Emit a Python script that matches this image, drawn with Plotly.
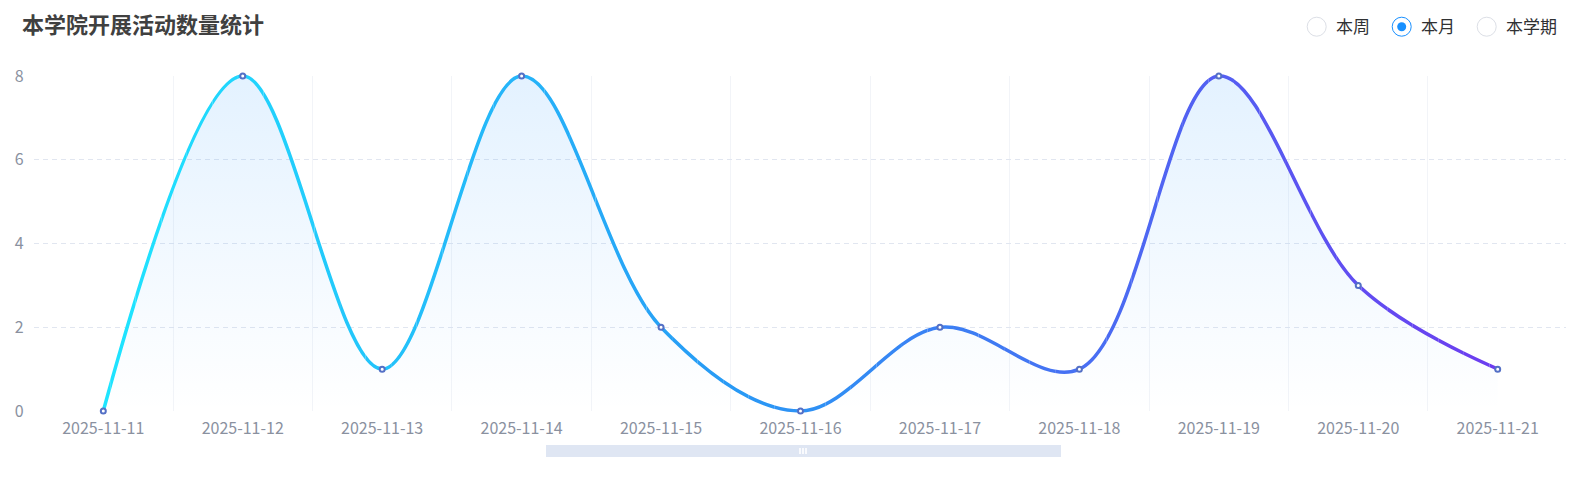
import plotly.graph_objects as go

# ==============================
# DATA
# ==============================
dates = ["2025-11-11", "2025-11-12", "2025-11-13", "2025-11-14", "2025-11-15",
         "2025-11-16", "2025-11-17", "2025-11-18", "2025-11-19", "2025-11-20",
         "2025-11-21"]
counts = [0, 8, 1, 8, 2, 0, 2, 1, 8, 3, 1]
y_ticks = [0, 2, 4, 6, 8]
title_text = "本学院开展活动数量统计"
periods = ["本周", "本月", "本学期"]
selected_period = "本月"

# ==============================
# CONFIG
# ==============================
# the page body keeps its default 8px margin, so the figure is
# 16px smaller than the window and every position is shifted by 8px
WIN_W, WIN_H = 1574, 478
OFF = 8
W, H = WIN_W - 2 * OFF, WIN_H - 2 * OFF
FONT = "Noto Sans CJK SC, Microsoft YaHei, sans-serif"
LABEL_COLOR = "#8a919f"

# plot geometry in window pixels
C_FIRST, C_LAST = 103.3, 1497.7   # centres of first / last category
PX_Y0, PX_Y8 = 411, 76            # pixel rows of y=0 and y=8

def px(x):
    return (x - OFF) / W

def py(y):
    return 1 - (y - OFF) / H

n = len(dates)
band = (C_LAST - C_FIRST) / (n - 1)
x_left_px = C_FIRST - band / 2
x_right_px = min(C_LAST + band / 2, OFF + W)
x_range = [(x_left_px - C_FIRST) / band, (x_right_px - C_FIRST) / band]
D0, D1 = px(x_left_px), px(x_right_px)

unit_px = (PX_Y0 - PX_Y8) / 8.0
pad = 0.25  # y padding so the thick line is not clipped
y_dom = [py(PX_Y0), py(PX_Y8)]
y2_dom = [py(PX_Y0 + pad * unit_px), py(PX_Y8 - pad * unit_px)]

# line colour gradient stops (left -> right)
stops = [(0.0, (31, 229, 255)), (0.45, (40, 154, 245)), (1.0, (109, 60, 240))]

def grad_color(t):
    t = min(max(t, 0.0), 1.0)
    for (t0, c0), (t1, c1) in zip(stops[:-1], stops[1:]):
        if t <= t1:
            f = (t - t0) / (t1 - t0)
            return "rgb(%d,%d,%d)" % tuple(round(a + (b - a) * f) for a, b in zip(c0, c1))
    return "rgb(%d,%d,%d)" % stops[-1][1]

fig = go.Figure()

# ==============================
# AREA (main subplot, carries the grid)
# ==============================
fig.add_trace(go.Scatter(
    x=dates, y=counts, mode="lines",
    line=dict(shape="spline", width=0, color="rgba(0,0,0,0)"),
    fill="tozeroy",
    fillgradient=dict(type="vertical",
                      colorscale=[[0, "rgba(24,144,255,0)"], [1, "rgba(24,144,255,0.12)"]]),
    hoverinfo="skip", showlegend=False,
    xaxis="x", yaxis="y",
))

layout_axes = {}
layout_axes["xaxis"] = dict(
    type="category", range=x_range, domain=[D0, D1],
    tickson="boundaries", showgrid=True, gridcolor="#f2f4f8", gridwidth=1,
    ticks="", showline=False, zeroline=False, automargin=False,
    tickfont=dict(family=FONT, size=16, color=LABEL_COLOR),
    ticklabelstandoff=6, fixedrange=True,
)
layout_axes["yaxis"] = dict(
    range=[0, 8], domain=y_dom, tickvals=y_ticks,
    showgrid=True, gridcolor="#e1e6f0", griddash="5px,4px", gridwidth=1,
    zeroline=False, showline=False, ticks="", automargin=False,
    tickfont=dict(family=FONT, size=16, color=LABEL_COLOR),
    ticklabelstandoff=9, fixedrange=True,
)
layout_axes["yaxis2"] = dict(
    range=[-pad, 8 + pad], domain=y2_dom, visible=False, fixedrange=True,
    automargin=False,
)

# ==============================
# GRADIENT LINE (same spline, clipped into thin vertical strips)
# ==============================
N_STRIPS = 60
step = (x_range[1] - x_range[0]) / N_STRIPS
for k in range(N_STRIPS):
    r0 = x_range[0] + k * step
    r1 = r0 + step
    ax_id = k + 2
    d0 = D0 + (r0 - x_range[0]) / (x_range[1] - x_range[0]) * (D1 - D0)
    d1 = D0 + (r1 - x_range[0]) / (x_range[1] - x_range[0]) * (D1 - D0)
    t = ((r0 + r1) / 2) / (n - 1)
    fig.add_trace(go.Scatter(
        x=dates, y=counts, mode="lines",
        line=dict(shape="spline", width=3.5, color=grad_color(t)),
        hoverinfo="skip", showlegend=False,
        xaxis="x%d" % ax_id, yaxis="y2",
    ))
    layout_axes["xaxis%d" % ax_id] = dict(
        type="category", range=[r0, r1], domain=[max(d0, 0), min(d1, 1)],
        anchor="y2", visible=False, fixedrange=True, automargin=False,
    )

# ==============================
# MARKERS (own subplot, drawn last)
# ==============================
mk_id = N_STRIPS + 2
fig.add_trace(go.Scatter(
    x=dates, y=counts, mode="markers",
    marker=dict(size=5, color="white", line=dict(color="#5470c6", width=2)),
    cliponaxis=False, hoverinfo="x+y", showlegend=False,
    xaxis="x%d" % mk_id, yaxis="y3",
))
layout_axes["xaxis%d" % mk_id] = dict(
    type="category", range=x_range, domain=[D0, D1],
    anchor="y3", visible=False, fixedrange=True, automargin=False,
)
layout_axes["yaxis3"] = dict(
    range=[0, 8], domain=y_dom, anchor="x%d" % mk_id,
    visible=False, fixedrange=True, automargin=False,
)

# ==============================
# RADIO GROUP + SCROLLBAR
# ==============================
shapes = []
annotations = []

radio_cx = [1316.7, 1401.7, 1486.7]
radio_cy = 26.7
r = 9.5
for cx, label in zip(radio_cx, periods):
    on = label == selected_period
    shapes.append(dict(
        type="circle", xref="paper", yref="paper",
        x0=px(cx - r), x1=px(cx + r), y0=py(radio_cy + r), y1=py(radio_cy - r),
        line=dict(color="#1890ff" if on else "#dcdfe6", width=1),
        fillcolor="white",
    ))
    if on:
        shapes.append(dict(
            type="circle", xref="paper", yref="paper",
            x0=px(cx - 4.5), x1=px(cx + 4.5), y0=py(radio_cy + 4.5), y1=py(radio_cy - 4.5),
            line=dict(width=0), fillcolor="#1890ff",
        ))
    annotations.append(dict(
        text=label, xref="paper", yref="paper", x=px(cx + 17), y=py(radio_cy - 1),
        xanchor="left", yanchor="middle", showarrow=False,
        font=dict(family=FONT, size=17, color="#303133"),
    ))

annotations.append(dict(
    text="<b>%s</b>" % title_text, xref="paper", yref="paper",
    x=px(20.5), y=py(22.5), xanchor="left", yanchor="middle", showarrow=False,
    borderpad=0,
    font=dict(family=FONT, size=22, color="#404040"),
))

# data zoom slider look-alike
shapes.append(dict(
    type="rect", xref="paper", yref="paper",
    x0=px(546), x1=px(1061), y0=py(457), y1=py(445),
    line=dict(width=0), fillcolor="#dfe6f3",
))
for dx in (-3, 0, 3):
    shapes.append(dict(
        type="rect", xref="paper", yref="paper",
        x0=px(803 + dx - 0.8), x1=px(803 + dx + 0.8), y0=py(454), y1=py(448),
        line=dict(width=0), fillcolor="white",
    ))

# ==============================
# LAYOUT
# ==============================
fig.update_layout(
    width=W, height=H,
    margin=dict(l=0, r=0, t=0, b=0, pad=0),
    paper_bgcolor="white", plot_bgcolor="rgba(0,0,0,0)",
    showlegend=False, shapes=shapes, annotations=annotations,
    font=dict(family=FONT),
    **layout_axes,
)

fig.write_html("out.html")
